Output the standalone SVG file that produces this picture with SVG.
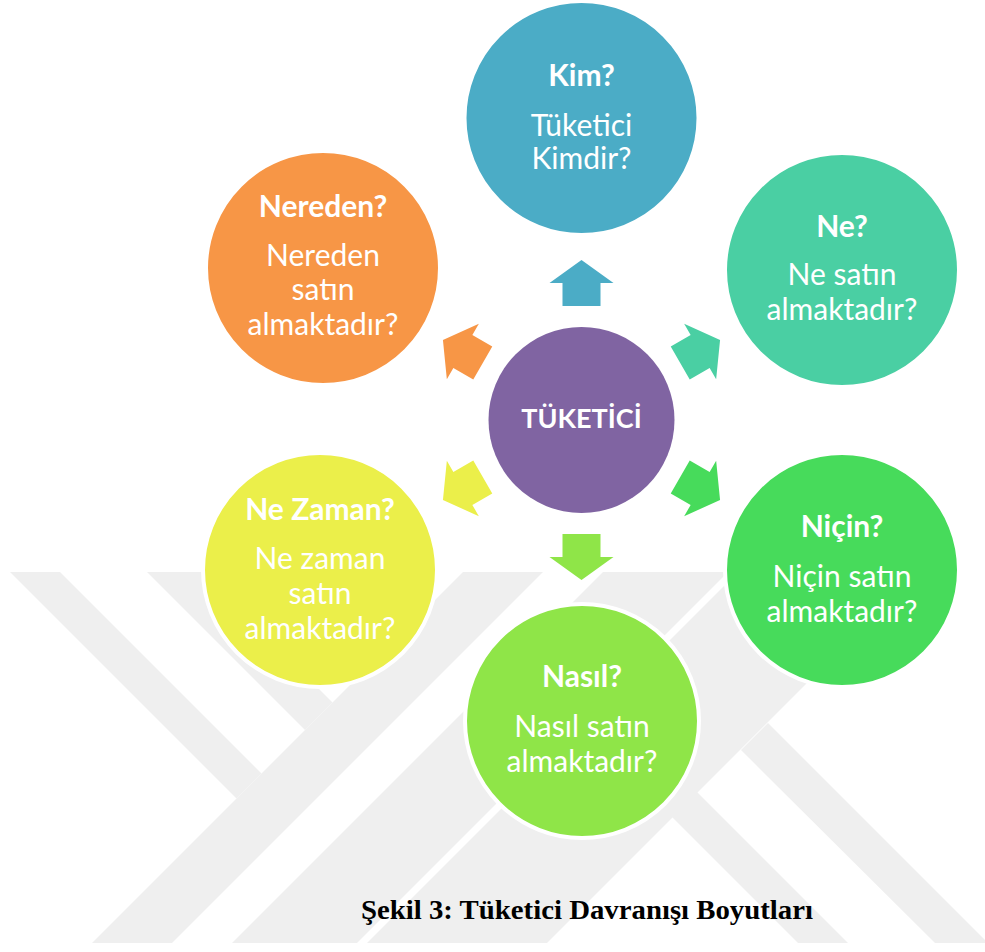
<svg xmlns="http://www.w3.org/2000/svg" width="985" height="952" viewBox="0 0 985 952">
<style>
.wm{fill:#efefef}
.circ{stroke:#ffffff;stroke-width:4}
.t{font-family:Lato,"Open Sans","Liberation Sans",sans-serif;fill:#ffffff;text-anchor:middle;font-size:30px}
.b{font-weight:bold}
.c{font-size:27px}
.cap{font-family:"Liberation Serif","Times New Roman",serif;font-weight:bold;font-size:27px;fill:#000000}
</style>
<defs>
<path id="arr" d="M0,-160 L32,-137 L19,-137 L19,-114 L-19,-114 L-19,-137 L-32,-137 Z"/>
<clipPath id="wmclip"><rect x="0" y="572" width="985" height="371"/></clipPath>
</defs>
<rect x="0" y="0" width="985" height="952" fill="#ffffff"/>
<g id="watermark" clip-path="url(#wmclip)">
<polygon class="wm" points="463,572 543,572 172,943 92,943"/>
<polygon class="wm" points="603,572 728,572 357,943 232,943"/>
<polygon class="wm" points="738,572 918,572 547,943 367,943"/>
<polygon class="wm" points="10,572 60,572 261.5,773.5 236.5,798.5"/>
<polygon class="wm" points="147,572 202,572 332.5,702.5 305,730"/>
<polygon class="wm" points="672,817 697,792 848,943 798,943"/>
<polygon class="wm" points="741,750 768,723 988,943 935,943"/>
</g>
<g id="connectors" transform="translate(581.5,420)">
<use href="#arr" fill="#4BACC6"/>
<use href="#arr" fill="#4ACFA3" transform="rotate(60)"/>
<use href="#arr" fill="#47DB5B" transform="rotate(120)"/>
<use href="#arr" fill="#8FE548" transform="rotate(180)"/>
<use href="#arr" fill="#EBEF4A" transform="rotate(240)"/>
<use href="#arr" fill="#F79646" transform="rotate(300)"/>
</g>
<g id="center">
<circle cx="581.5" cy="420" r="93" fill="#8064A2"/>
<text class="t b c" x="581.5" y="428">TÜKETİCİ</text>
</g>
<g id="kim">
<circle class="circ" cx="581.5" cy="118" r="117" fill="#4BACC6"/>
<text class="t b" x="581.5" y="86">Kim?</text>
<text class="t" x="581.5" y="136">Tüketici</text>
<text class="t" x="581.5" y="169">Kimdir?</text>
</g>
<g id="ne">
<circle class="circ" cx="842" cy="270" r="117" fill="#4ACFA3"/>
<text class="t b" x="842" y="237">Ne?</text>
<text class="t" x="842" y="285">Ne satın</text>
<text class="t" x="842" y="320">almaktadır?</text>
</g>
<g id="nicin">
<circle class="circ" cx="842" cy="570" r="117" fill="#47DB5B"/>
<text class="t b" x="842" y="537">Niçin?</text>
<text class="t" x="842" y="587">Niçin satın</text>
<text class="t" x="842" y="622">almaktadır?</text>
</g>
<g id="nasil">
<circle class="circ" cx="582" cy="721" r="117" fill="#8FE548"/>
<text class="t b" x="582" y="687">Nasıl?</text>
<text class="t" x="582" y="737">Nasıl satın</text>
<text class="t" x="582" y="772">almaktadır?</text>
</g>
<g id="nezaman">
<circle class="circ" cx="320" cy="570" r="117" fill="#EBEF4A"/>
<text class="t b" x="320" y="520">Ne Zaman?</text>
<text class="t" x="320" y="569">Ne zaman</text>
<text class="t" x="320" y="604">satın</text>
<text class="t" x="320" y="639">almaktadır?</text>
</g>
<g id="nereden">
<circle class="circ" cx="323" cy="268" r="117" fill="#F79646"/>
<text class="t b" x="323" y="217">Nereden?</text>
<text class="t" x="323" y="266">Nereden</text>
<text class="t" x="323" y="300">satın</text>
<text class="t" x="323" y="335">almaktadır?</text>
</g>
<text class="cap" x="361" y="919" textLength="452" lengthAdjust="spacingAndGlyphs">Şekil 3: Tüketici Davranışı Boyutları</text>
</svg>
